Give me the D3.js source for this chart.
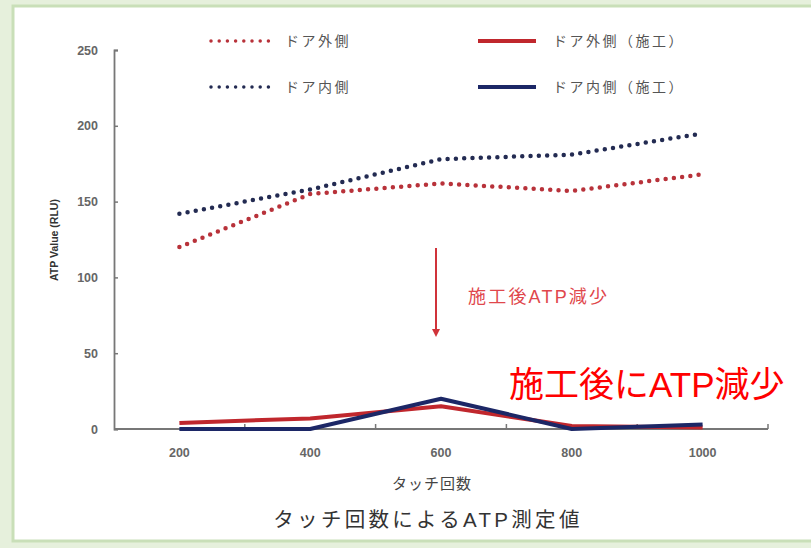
<!DOCTYPE html>
<html><head><meta charset="utf-8">
<script src="https://cdn.jsdelivr.net/npm/d3@7"></script>
<style>
html,body{margin:0;padding:0;background:#fff;}
svg{display:block;}
</style></head>
<body>
<svg id="chart" width="811" height="548"></svg>
<script>
const categories = ["200", "400", "600", "800", "1000"];
const outerDoor = [120, 155, 162, 157, 168];
const innerDoor = [142, 158, 178, 181, 195];
const outerDoorTreated = [4, 7, 15, 2, 1];
const innerDoorTreated = [0, 0, 20, 0, 3];
const yTicks = [0, 50, 100, 150, 200, 250];
const seriesNames = ["ドア外側", "ドア内側", "ドア外側（施工）", "ドア内側（施工）"];

const svg = d3.select("#chart");
const jp = "'Noto Sans CJK JP', 'Noto Sans', sans-serif";
const mix = "'Liberation Sans', 'Noto Sans CJK JP', sans-serif";
const num = "'Liberation Sans', Arial, sans-serif";

// frame
svg.append("rect").attr("x", 0).attr("y", 0).attr("width", 811).attr("height", 548).attr("fill", "#e6f0dc");
svg.append("rect").attr("x", 13).attr("y", 6).attr("width", 820).attr("height", 535)
  .attr("fill", "#fff").attr("stroke", "#c9dfb8").attr("stroke-width", 3);

const x = d3.scaleBand().domain(categories).range([114, 768]);
const y = d3.scaleLinear().domain([0, 250]).range([429, 50]);
const cx = c => x(c) + x.bandwidth() / 2;

// axes
const yAxis = d3.axisRight(y).tickValues(yTicks).tickSize(4).tickFormat("");
const gy = svg.append("g").attr("transform", "translate(114,0)").call(yAxis);
gy.select(".domain").attr("stroke", "#777").attr("stroke-width", 1.8);
gy.selectAll(".tick line").attr("stroke", "#777").attr("stroke-width", 1.5);

const gx = svg.append("g").attr("transform", "translate(0,429)");
gx.append("line").attr("x1", 114).attr("x2", 768).attr("stroke", "#777").attr("stroke-width", 1.8);
const bounds = categories.map(c => x(c)).concat([x(categories[categories.length - 1]) + x.bandwidth()]);
gx.selectAll("line.tk").data(bounds.slice(1)).join("line").attr("class", "tk")
  .attr("x1", d => d).attr("x2", d => d).attr("y1", 0).attr("y2", -5)
  .attr("stroke", "#777").attr("stroke-width", 1.5);

// tick labels
svg.selectAll("text.yt").data(yTicks).join("text").attr("class", "yt")
  .attr("x", 98).attr("y", d => y(d) + 4.5).attr("text-anchor", "end")
  .attr("font-family", num).attr("font-weight", "bold").attr("font-size", 12.5).attr("fill", "#666")
  .text(d => d);
svg.selectAll("text.xt").data(categories).join("text").attr("class", "xt")
  .attr("x", d => cx(d)).attr("y", 457).attr("text-anchor", "middle")
  .attr("font-family", num).attr("font-weight", "bold").attr("font-size", 12.5).attr("fill", "#666")
  .text(d => d);

// axis titles
svg.append("text").attr("transform", "translate(58,240) rotate(-90)").attr("text-anchor", "middle")
  .attr("font-family", num).attr("font-weight", "bold").attr("font-size", 10.5).attr("fill", "#333")
  .text("ATP Value (RLU)");
svg.append("text").attr("x", 432).attr("y", 489).attr("text-anchor", "middle")
  .attr("font-family", jp).attr("font-size", 15).attr("letter-spacing", 1).attr("fill", "#444").text("タッチ回数");
svg.append("text").attr("x", 428).attr("y", 527).attr("text-anchor", "middle")
  .attr("font-family", mix).attr("font-size", 20.5).attr("letter-spacing", 3.3).attr("fill", "#333").text("タッチ回数によるATP測定値");

// lines
const line = d3.line().x((d, i) => cx(categories[i])).y(d => y(d));
const red = "#c0272d", navy = "#1c2766";
const redDot = "#b8323a", navyDot = "#232b52";

function dotted(data, color) {
  svg.append("path").datum(data).attr("d", line).attr("fill", "none")
    .attr("stroke", color).attr("stroke-width", 4.5).attr("stroke-linecap", "round")
    .attr("stroke-dasharray", "0 8.3");
}
function solid(data, color) {
  svg.append("path").datum(data).attr("d", line).attr("fill", "none")
    .attr("stroke", color).attr("stroke-width", 4).attr("stroke-linejoin", "round");
}
dotted(outerDoor, redDot);
dotted(innerDoor, navyDot);
solid(outerDoorTreated, red);
solid(innerDoorTreated, navy);

// legend
const legend = [
  {name: seriesNames[0], color: redDot, dot: true, lx: 211, ly: 41},
  {name: seriesNames[1], color: navyDot, dot: true, lx: 211, ly: 87},
  {name: seriesNames[2], color: red, dot: false, lx: 478, ly: 41},
  {name: seriesNames[3], color: navy, dot: false, lx: 478, ly: 87}
];
legend.forEach(l => {
  const ln = svg.append("line").attr("x1", l.lx).attr("x2", l.lx + 58).attr("y1", l.ly).attr("y2", l.ly)
    .attr("stroke", l.color);
  if (l.dot) ln.attr("stroke-width", 3.5).attr("stroke-linecap", "round").attr("stroke-dasharray", "0 8.2");
  else ln.attr("stroke-width", 4);
  svg.append("text").attr("x", l.dot ? 285 : 553).attr("y", l.ly + 5)
    .attr("font-family", jp).attr("font-size", 14).attr("letter-spacing", 2.5).attr("fill", "#555").text(l.name);
});

// annotation arrow
const ax = cx("600");
svg.append("defs").append("marker").attr("id", "ah").attr("viewBox", "0 0 10 10")
  .attr("refX", 5).attr("refY", 5).attr("markerWidth", 4).attr("markerHeight", 4).attr("orient", "auto")
  .append("path").attr("d", "M0,0 L10,5 L0,10 z").attr("fill", "#d0333a");
svg.append("line").attr("x1", ax - 5).attr("x2", ax - 5).attr("y1", 248).attr("y2", 333)
  .attr("stroke", "#d0333a").attr("stroke-width", 2).attr("marker-end", "url(#ah)");
svg.append("text").attr("x", 468).attr("y", 303).attr("font-family", mix).attr("font-size", 18)
  .attr("letter-spacing", 2.2).attr("fill", "#e0474c").text("施工後ATP減少");
svg.append("text").attr("x", 509).attr("y", 397).attr("font-family", mix).attr("font-size", 35)
  .attr("fill", "#ff0000").text("施工後にATP減少");
</script>
</body></html>
